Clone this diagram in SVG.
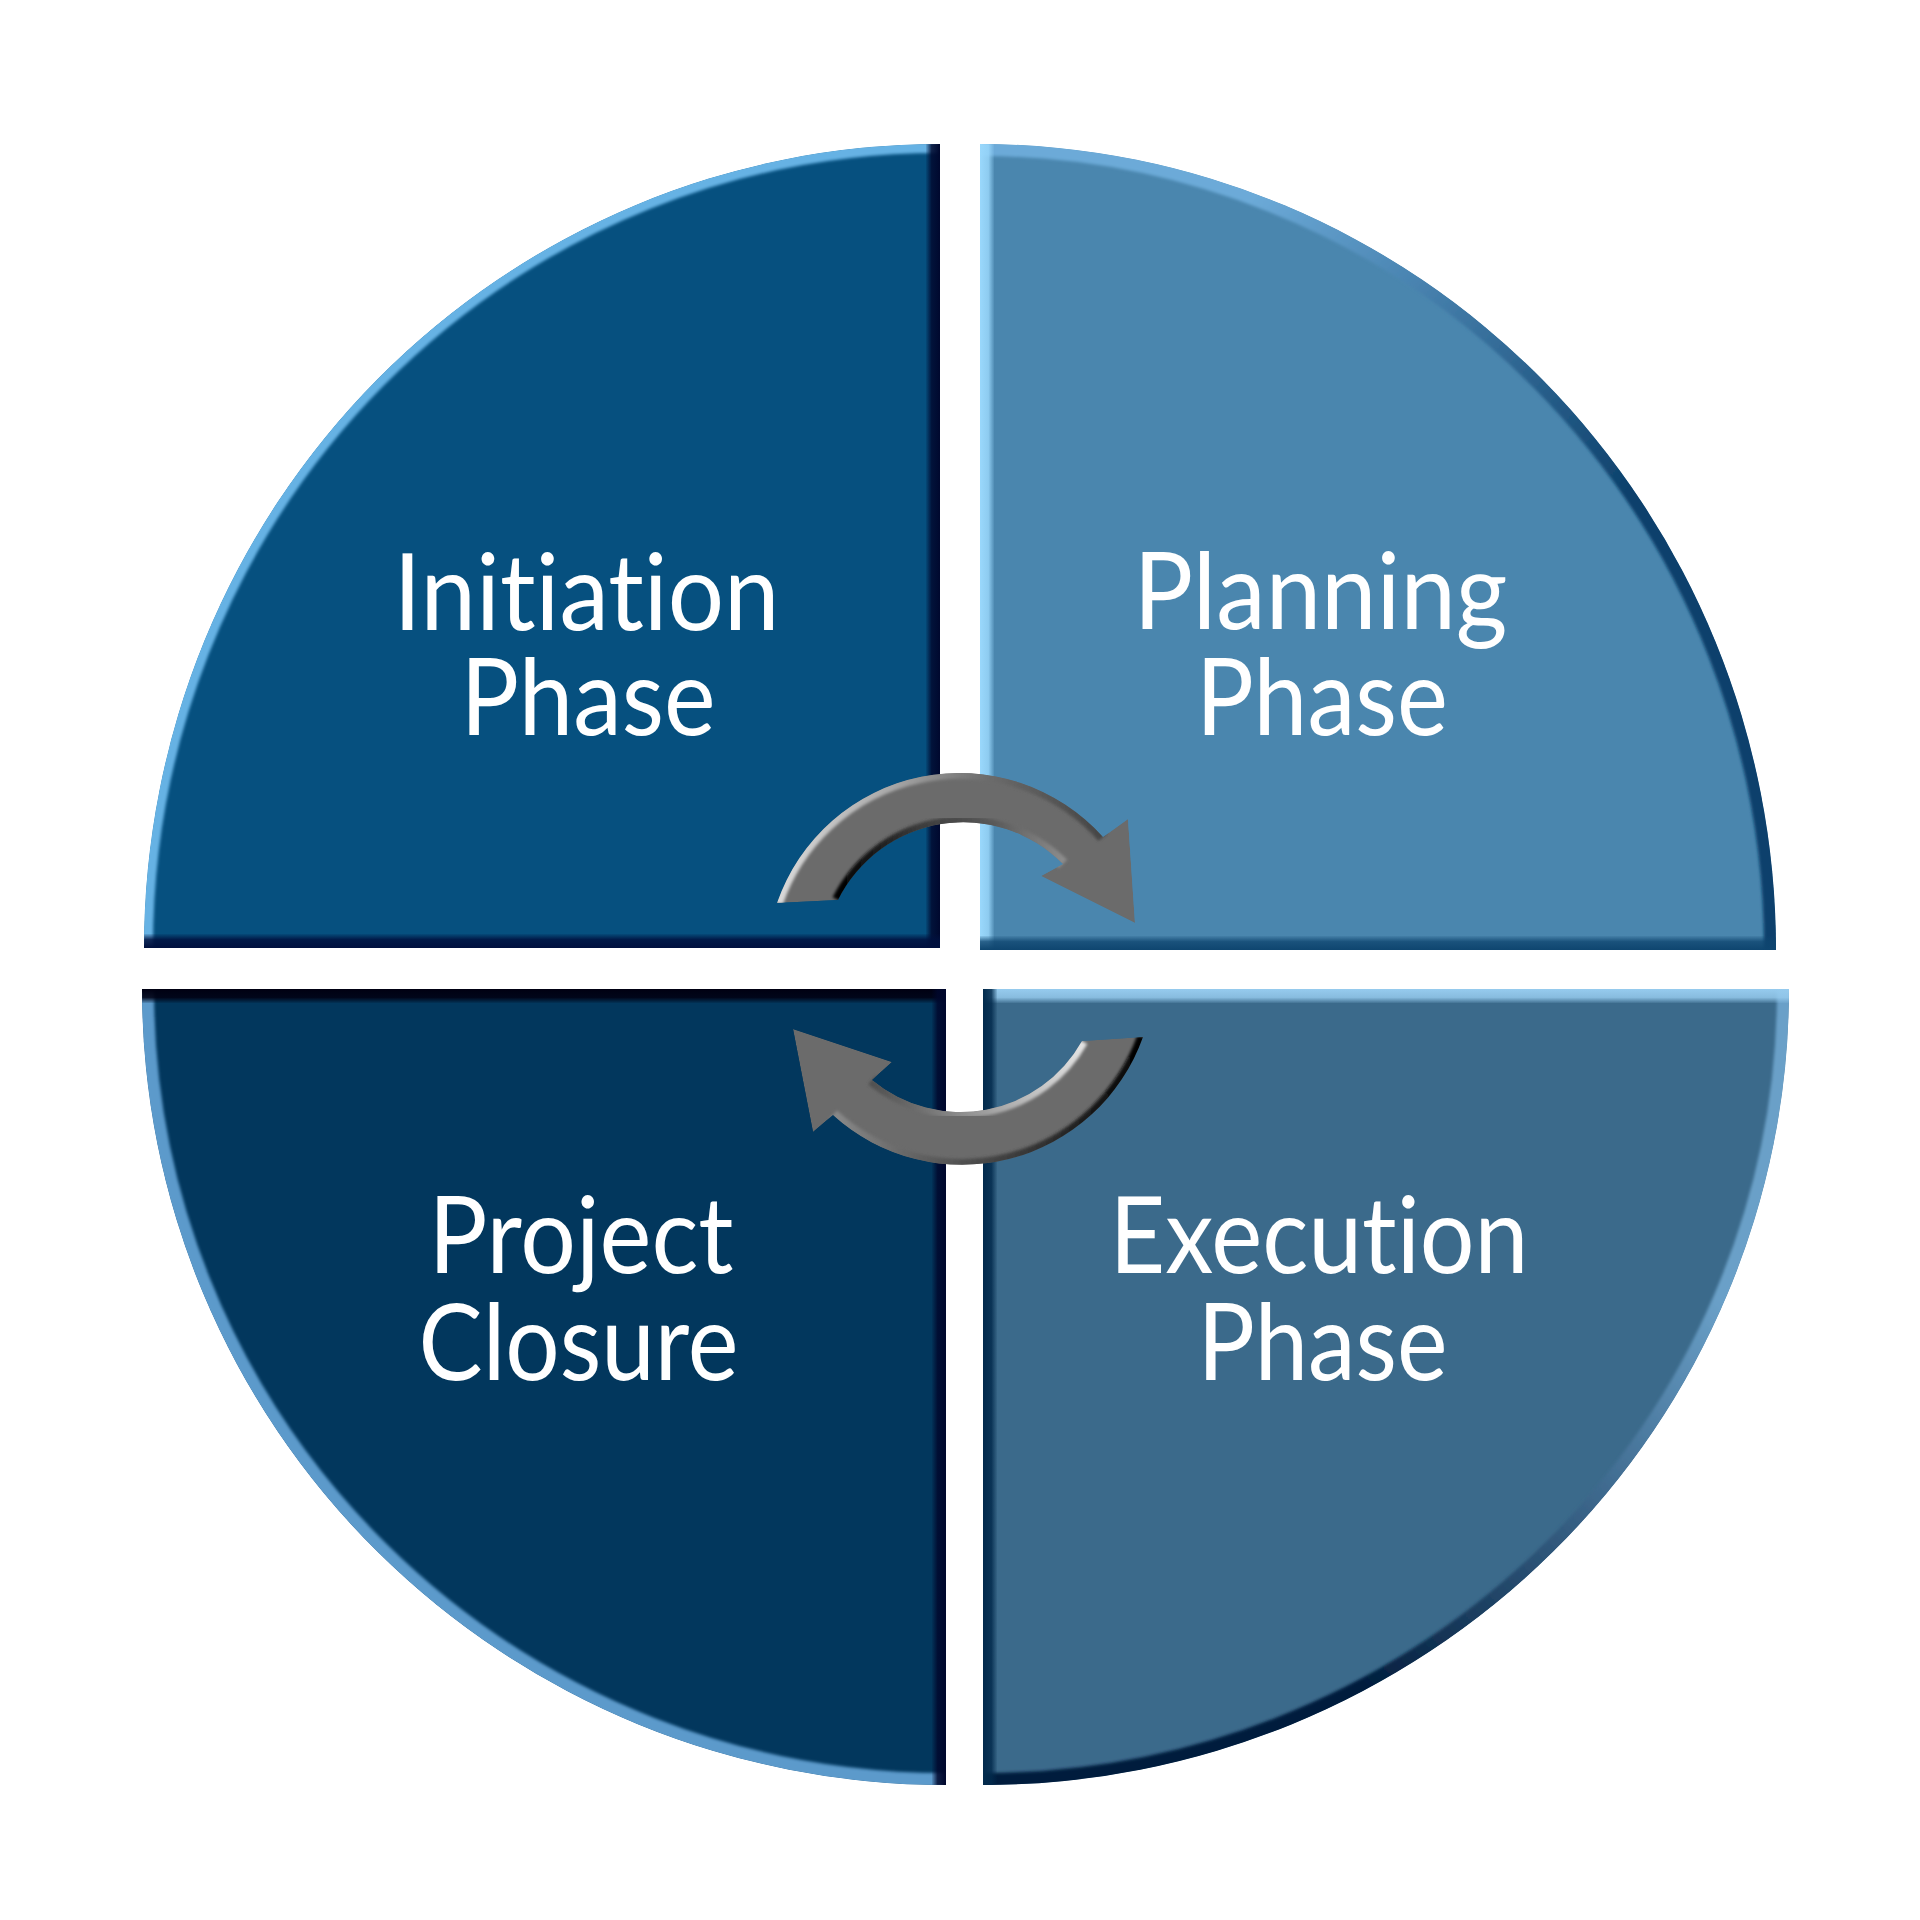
<svg xmlns="http://www.w3.org/2000/svg" width="1920" height="1920" viewBox="0 0 1920 1920">
<style>
.lbl{font-family:Lato,"Open Sans","Liberation Sans",sans-serif;font-size:106px;fill:#FFFFFF;text-anchor:middle;font-variant-ligatures:none;font-feature-settings:"liga" 0,"clig" 0}
.bev{fill:none}
</style>
<defs>
<filter id="soft" x="-5%" y="-5%" width="110%" height="110%"><feGaussianBlur stdDeviation="1.5"/></filter>
<clipPath id="cTL"><path d="M144 948 A796 804 0 0 1 940 144 L940 948 Z"/></clipPath>
<clipPath id="cTR"><path d="M980 144 A796 806 0 0 1 1776 950 L980 950 Z"/></clipPath>
<clipPath id="cBL"><path d="M142 989 L946 989 L946 1785 A804 796 0 0 1 142 989 Z"/></clipPath>
<clipPath id="cBR"><path d="M983 989 L1789 989 A806 796 0 0 1 983 1785 Z"/></clipPath>
<clipPath id="cA1"><path d="M777 903 A193 193 0 0 1 1103 837 L1128 819 L1135 923 L1041 876 L1063 864 A140 140 0 0 0 838 900 Z"/></clipPath>
<clipPath id="cA2"><path d="M1143 1037 A192 192 0 0 1 833 1115 L813 1132 L793 1029 L892 1062 L872 1080 A139 139 0 0 0 1082 1041 Z"/></clipPath>
<linearGradient id="tlR" x1="0" y1="0" x2="1" y2="0"><stop offset="0" stop-color="#00082E" stop-opacity="0.1"/><stop offset="0.4" stop-color="#00082E" stop-opacity="0.85"/><stop offset="1" stop-color="#00082E"/></linearGradient>
<linearGradient id="tlB" x1="0" y1="0" x2="0" y2="1"><stop offset="0" stop-color="#00103E" stop-opacity="0.1"/><stop offset="0.4" stop-color="#00103E" stop-opacity="0.85"/><stop offset="1" stop-color="#00103E"/></linearGradient>
<linearGradient id="trL" x1="0" y1="0" x2="1" y2="0"><stop offset="0" stop-color="#9AD8FC"/><stop offset="0.6" stop-color="#9AD8FC" stop-opacity="0.85"/><stop offset="1" stop-color="#9AD8FC" stop-opacity="0.1"/></linearGradient>
<linearGradient id="trB" x1="0" y1="0" x2="0" y2="1"><stop offset="0" stop-color="#0E456F" stop-opacity="0.1"/><stop offset="0.4" stop-color="#0E456F" stop-opacity="0.8"/><stop offset="1" stop-color="#0E456F"/></linearGradient>
<linearGradient id="blT" x1="0" y1="0" x2="0" y2="1"><stop offset="0" stop-color="#000012"/><stop offset="0.6" stop-color="#000012" stop-opacity="0.9"/><stop offset="1" stop-color="#000012" stop-opacity="0.1"/></linearGradient>
<linearGradient id="blR" x1="0" y1="0" x2="1" y2="0"><stop offset="0" stop-color="#00072C" stop-opacity="0.1"/><stop offset="0.4" stop-color="#00072C" stop-opacity="0.85"/><stop offset="1" stop-color="#00072C"/></linearGradient>
<linearGradient id="brT" x1="0" y1="0" x2="0" y2="1"><stop offset="0" stop-color="#96CBEE"/><stop offset="0.6" stop-color="#96CBEE" stop-opacity="0.85"/><stop offset="1" stop-color="#96CBEE" stop-opacity="0.1"/></linearGradient>
<linearGradient id="brL" x1="0" y1="0" x2="1" y2="0"><stop offset="0" stop-color="#022A4C"/><stop offset="0.6" stop-color="#022A4C" stop-opacity="0.85"/><stop offset="1" stop-color="#022A4C" stop-opacity="0.1"/></linearGradient>
<linearGradient id="trArc" gradientUnits="userSpaceOnUse" x1="1250" y1="200" x2="1600" y2="520"><stop offset="0" stop-color="#6CAAD8"/><stop offset="1" stop-color="#0D416C"/></linearGradient>
<linearGradient id="brArc" gradientUnits="userSpaceOnUse" x1="1720" y1="1300" x2="1350" y2="1680"><stop offset="0" stop-color="#6AA0C8"/><stop offset="1" stop-color="#001C3C"/></linearGradient>
<linearGradient id="a1o" gradientUnits="userSpaceOnUse" x1="777" y1="0" x2="1103" y2="0"><stop offset="0" stop-color="#DADADA"/><stop offset="0.35" stop-color="#A8A8A8"/><stop offset="0.65" stop-color="#6B6B6B"/><stop offset="1" stop-color="#454545"/></linearGradient>
<linearGradient id="a1i" gradientUnits="userSpaceOnUse" x1="838" y1="0" x2="1063" y2="0"><stop offset="0" stop-color="#000000"/><stop offset="0.35" stop-color="#3A3A3A"/><stop offset="0.7" stop-color="#5A5A5A"/><stop offset="1" stop-color="#8C8C8C"/></linearGradient>
<linearGradient id="a2o" gradientUnits="userSpaceOnUse" x1="1143" y1="0" x2="833" y2="0"><stop offset="0" stop-color="#000000"/><stop offset="0.3" stop-color="#2E2E2E"/><stop offset="0.7" stop-color="#5E5E5E"/><stop offset="1" stop-color="#8A8A8A"/></linearGradient>
<linearGradient id="a2i" gradientUnits="userSpaceOnUse" x1="1082" y1="0" x2="872" y2="0"><stop offset="0" stop-color="#E2E2E2"/><stop offset="0.4" stop-color="#A8A8A8"/><stop offset="0.8" stop-color="#6B6B6B"/><stop offset="1" stop-color="#505050"/></linearGradient>
</defs>

<g id="initiation">
  <g clip-path="url(#cTL)">
    <path d="M144 948 A796 804 0 0 1 940 144 L940 948 Z" fill="#06507F"/>
    <path class="bev" d="M144 948 A796 804 0 0 1 940 144" stroke="#66B2E4" stroke-width="18" filter="url(#soft)"/>
    <rect x="926" y="144" width="14" height="804" fill="url(#tlR)"/>
    <rect x="144" y="934" width="796" height="14" fill="url(#tlB)"/>
  </g>
  <text class="lbl" x="586.5" y="630" textLength="386" lengthAdjust="spacingAndGlyphs">Initiation</text>
  <text class="lbl" x="588" y="735" textLength="255" lengthAdjust="spacingAndGlyphs">Phase</text>
</g>

<g id="planning">
  <g clip-path="url(#cTR)">
    <path d="M980 144 A796 806 0 0 1 1776 950 L980 950 Z" fill="#4A86AE"/>
    <path class="bev" d="M980 144 A796 806 0 0 1 1776 950" stroke="url(#trArc)" stroke-width="24" filter="url(#soft)"/>
    <rect x="980" y="144" width="14" height="806" fill="url(#trL)"/>
    <rect x="980" y="936" width="796" height="14" fill="url(#trB)"/>
  </g>
  <text class="lbl" x="1320.5" y="629" textLength="374" lengthAdjust="spacingAndGlyphs">Planning</text>
  <text class="lbl" x="1322" y="735" textLength="252" lengthAdjust="spacingAndGlyphs">Phase</text>
</g>

<g id="closure">
  <g clip-path="url(#cBL)">
    <path d="M142 989 L946 989 L946 1785 A804 796 0 0 1 142 989 Z" fill="#02375D"/>
    <path class="bev" d="M946 1785 A804 796 0 0 1 142 989" stroke="#5C9ACB" stroke-width="24" filter="url(#soft)"/>
    <rect x="142" y="989" width="804" height="14" fill="url(#blT)"/>
    <rect x="932" y="989" width="14" height="796" fill="url(#blR)"/>
  </g>
  <text class="lbl" x="581" y="1273" textLength="305" lengthAdjust="spacingAndGlyphs">Project</text>
  <text class="lbl" x="578.5" y="1380" textLength="320" lengthAdjust="spacingAndGlyphs">Closure</text>
</g>

<g id="execution">
  <g clip-path="url(#cBR)">
    <path d="M983 989 L1789 989 A806 796 0 0 1 983 1785 Z" fill="#3B6A8B"/>
    <path class="bev" d="M1789 989 A806 796 0 0 1 983 1785" stroke="url(#brArc)" stroke-width="24" filter="url(#soft)"/>
    <rect x="983" y="989" width="806" height="14" fill="url(#brT)"/>
    <rect x="983" y="989" width="14" height="796" fill="url(#brL)"/>
  </g>
  <text class="lbl" x="1319" y="1273" textLength="419" lengthAdjust="spacingAndGlyphs">Execution</text>
  <text class="lbl" x="1322.5" y="1380" textLength="250" lengthAdjust="spacingAndGlyphs">Phase</text>
</g>

<g id="connectors">
  <g id="arrow-top" clip-path="url(#cA1)">
    <path d="M777 903 A193 193 0 0 1 1103 837 L1128 819 L1135 923 L1041 876 L1063 864 A140 140 0 0 0 838 900 Z" fill="#6B6B6B"/>
    <path class="bev" d="M777 903 A193 193 0 0 1 1103 837" stroke="url(#a1o)" stroke-width="12" filter="url(#soft)"/>
    <path class="bev" d="M838 900 A140 140 0 0 1 1063 864" stroke="url(#a1i)" stroke-width="12" filter="url(#soft)"/>
  </g>
  <g id="arrow-bottom" clip-path="url(#cA2)">
    <path d="M1143 1037 A192 192 0 0 1 833 1115 L813 1132 L793 1029 L892 1062 L872 1080 A139 139 0 0 0 1082 1041 Z" fill="#6B6B6B"/>
    <path class="bev" d="M1143 1037 A192 192 0 0 1 833 1115" stroke="url(#a2o)" stroke-width="12" filter="url(#soft)"/>
    <path class="bev" d="M1082 1041 A139 139 0 0 1 872 1080" stroke="url(#a2i)" stroke-width="12" filter="url(#soft)"/>
  </g>
</g>
</svg>
